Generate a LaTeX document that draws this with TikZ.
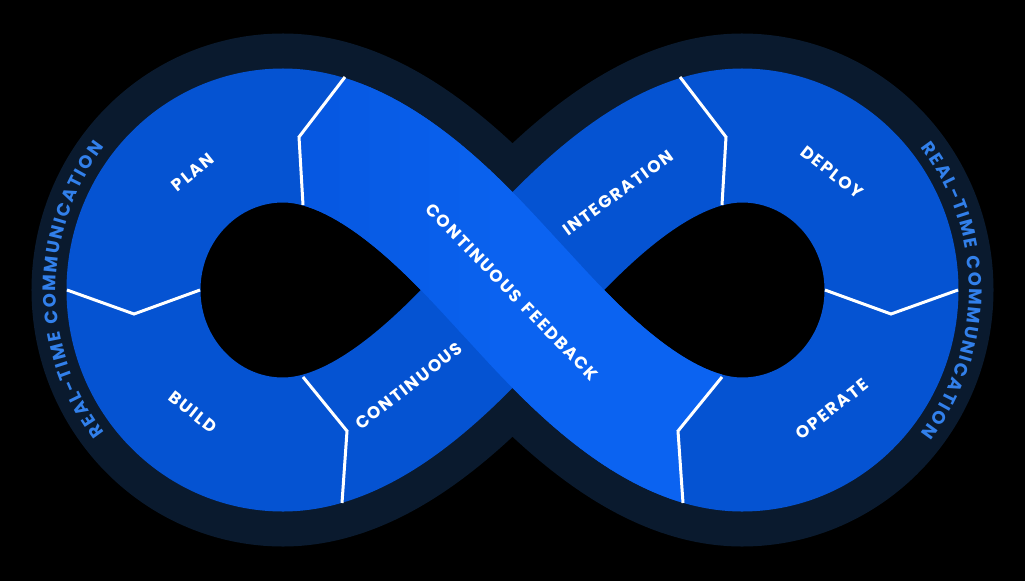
\documentclass[tikz,border=0pt]{standalone}
\usepackage{fontspec}
\usetikzlibrary{decorations.text}
\newfontfamily\lblfnt{Poppins}[LetterSpace=10]
\newfontfamily\ringfnt{Poppins}
\definecolor{navy}{RGB}{10,26,46}
\definecolor{bandblue}{RGB}{5,83,210}
\definecolor{fbA}{RGB}{5,86,222}
\definecolor{fbB}{RGB}{11,99,241}
\definecolor{ringtext}{RGB}{50,128,235}
\begin{document}
\begin{tikzpicture}[x=1pt,y=-1pt,
  lbl/.style={text=white, font=\lblfnt\bfseries\fontsize{17}{17}\selectfont, inner sep=0pt},
  divider/.style={draw=white, line width=3pt, line join=miter},
  ringlabel/.style={decorate, decoration={text along path, text align=fit to path,
      text color=ringtext, text={|\ringfnt\bfseries\fontsize{18}{18}\selectfont|REAL-TIME COMMUNICATION}}}]
\useasboundingbox (0,0) rectangle (1025,581);
\fill[black] (0,0) rectangle (1025,581);

% key points of the centre line
\coordinate (C)  at (512.5,290);
\coordinate (TR) at (742,135.5);
\coordinate (RR) at (891.5,290);
\coordinate (BR) at (742,444.5);
\coordinate (TL) at (283,135.5);
\coordinate (LL) at (133.5,290);
\coordinate (BL) at (283,444.5);

% outer ring (navy), holes (black), blue band
\foreach \w/\c/\f in {204/navy/none,0/black/black,134/bandblue/none}{
  \path[line width=\w pt, draw=\c, fill=\f, nonzero rule]
    (C) .. controls (556.8,242.5) and (647,135.5) .. (TR)
        .. controls (824.6,135.5) and (891.5,204.7) .. (RR)
        .. controls (891.5,375.3) and (824.6,444.5) .. (BR)
        .. controls (647,444.5) and (556.8,337.5) .. (C)
        .. controls (468.2,242.5) and (378,135.5) .. (TL)
        .. controls (200.4,135.5) and (133.5,204.7) .. (LL)
        .. controls (133.5,375.3) and (200.4,444.5) .. (BL)
        .. controls (378,444.5) and (468.2,337.5) .. cycle;
}

% continuous feedback band on top, with gradient
\begin{scope}
  \clip (401,0) -- (345,77) -- (299,137) -- (303,205) -- (303,581) -- (683,581)
        -- (683,503) -- (678,431) -- (722,377) -- (722,0) -- cycle;
  \foreach \i in {0,...,15}{
    \pgfmathsetmacro\xa{280+30*\i}
    \pgfmathsetmacro\p{min(100,100*(\i+0.5)/8)}
    \begin{scope}
      \clip (\xa-0.6,0) rectangle (\xa+30.6,581);
      \draw[line width=134pt, color=fbB!\p!fbA]
        (TL) .. controls (378,135.5) and (468.2,242.5) .. (C)
             .. controls (556.8,337.5) and (647,444.5) .. (BR);
    \end{scope}
  }
\end{scope}

% dividers
\draw[divider] (345,77) -- (299,137) -- (303,205);
\draw[divider] (67,290) -- (134,314) -- (200,290);
\draw[divider] (303,377) -- (347,431) -- (342,503);
\draw[divider] (680,77) -- (726,137) -- (722,205);
\draw[divider] (825,290) -- (891,314) -- (958,290);
\draw[divider] (722,377) -- (678,431) -- (683,503);

% labels
\node[lbl, rotate=39]  (plan)     at (193,172) {PLAN};
\node[lbl, rotate=-38] (build)    at (193,412) {BUILD};
\node[lbl, rotate=-38] (deploy)   at (832,172) {DEPLOY};
\node[lbl, rotate=38]  (operate)  at (832,409) {OPERATE};
\node[lbl, rotate=38]  (contl)    at (409,386) {CONTINUOUS};
\node[lbl, rotate=36]  (integ)    at (618,193) {INTEGRATION};
\node[lbl, rotate=-46] (feedback) at (512,292) {CONTINUOUS\hspace{3pt} FEEDBACK};

% ring texts
\path[ringlabel] (283,290) ++(142:227 and 232) arc[start angle=142, end angle=218, x radius=227, y radius=232];
\path[ringlabel] (742,290) ++(-38:227 and 232) arc[start angle=-38, end angle=38, x radius=227, y radius=232];
\end{tikzpicture}
\end{document}
